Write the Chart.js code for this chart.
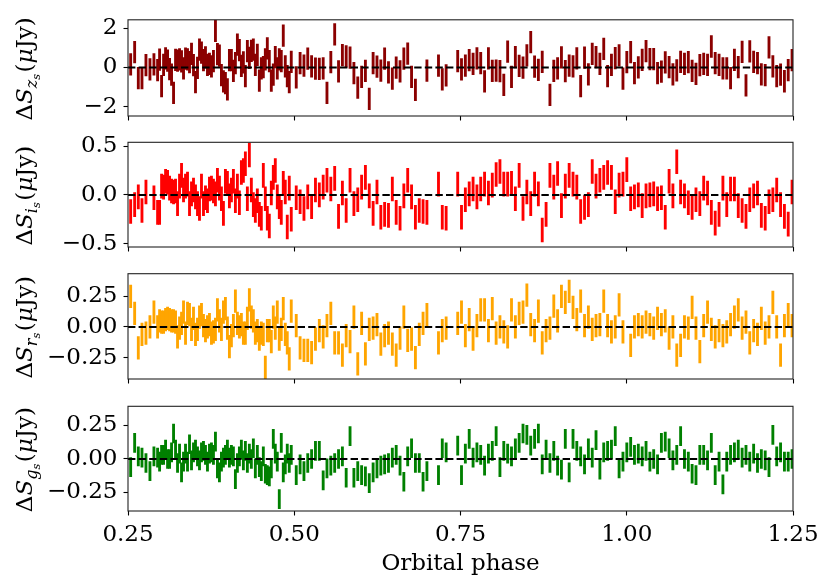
<!DOCTYPE html>
<html lang="en">
<head>
  <meta charset="UTF-8">
  <title>Residuals against orbital phase</title>
  <script src="https://cdn.jsdelivr.net/npm/chart.js"></script>
  <style>
    body { margin: 0; background: #fff; }
    #wrap { position: relative; width: 831px; height: 586px; }
    #wrap canvas { position: absolute; left: 0; top: 0; }
  </style>
</head>
<body>
<div id="wrap">
  <canvas id="pz" width="831" height="586"></canvas>
  <canvas id="pi" width="831" height="586"></canvas>
  <canvas id="pr" width="831" height="586"></canvas>
  <canvas id="pg" width="831" height="586"></canvas>
</div>
<script>
// orbital phase of each observation (same for all four bands)
var phase = [
  0.2540,0.2600,0.2655,0.2710,0.2770,0.2830,0.2890,
  0.2945,0.2975,0.3005,0.3035,0.3065,0.3095,0.3125,0.3155,0.3185,0.3215,
  0.3245,0.3275,0.3305,0.3335,0.3365,0.3395,0.3425,0.3455,0.3485,0.3515,
  0.3545,0.3575,0.3605,0.3635,0.3665,0.3695,0.3725,0.3755,0.3785,0.3815,
  0.3845,0.3875,0.3905,0.3935,0.3965,0.3995,0.4025,0.4055,0.4085,0.4115,
  0.4145,0.4175,0.4205,0.4235,0.4265,0.4295,0.4325,0.4355,0.4385,0.4415,
  0.4445,0.4475,0.4505,0.4535,0.4565,0.4595,0.4625,0.4655,0.4685,0.4715,
  0.4745,0.4775,0.4805,0.4835,0.4865,0.4895,0.4925,0.4955,
  0.5030,0.5088,0.5146,0.5203,0.5261,0.5319,0.5377,0.5435,0.5492,0.5550,
  0.5608,0.5666,0.5724,0.5781,0.5839,0.5897,0.5955,0.6013,0.6070,0.6128,
  0.6186,0.6244,0.6302,0.6359,0.6417,0.6475,0.6533,0.6591,0.6648,0.6706,
  0.6764,0.6822,0.6880,0.6937,0.6995,
  0.7169,0.7226,0.7284,
  0.7458,0.7515,0.7573,0.7631,0.7689,0.7747,0.7804,0.7862,0.7920,0.7978,
  0.8036,0.8093,0.8151,0.8209,0.8267,0.8325,0.8382,0.8440,0.8498,0.8556,
  0.8614,0.8671,0.8729,0.8787,0.8845,0.8903,0.8960,0.9018,0.9076,0.9134,
  0.9192,0.9249,0.9307,0.9365,0.9423,0.9481,0.9538,0.9596,0.9654,0.9712,
  0.9770,0.9827,0.9885,0.9943,1.0001,1.0059,1.0116,1.0174,1.0232,1.0290,
  1.0348,1.0405,1.0463,1.0521,1.0579,1.0637,1.0694,1.0752,1.0810,1.0868,
  1.0926,1.0983,1.1041,1.1099,1.1157,1.1215,1.1272,1.1330,1.1388,1.1446,
  1.1504,1.1561,1.1619,1.1677,1.1735,1.1793,1.1850,1.1908,1.1966,1.2024,
  1.2082,1.2139,1.2197,1.2255,1.2313,1.2371,1.2428,1.2486
];

// residuals (uJy), null = no point in that band
var zRes = [
  0.16,0.78,-0.54,-0.54,0.12,-0.09,0.16,
  -0.13,0.40,-0.95,0.14,0.47,0.35,-0.08,-0.36,-1.29,0.39,
  0.35,0.41,0.31,-0.05,0.45,0.41,0.28,0.70,0.12,-0.74,
  -0.02,0.91,0.76,0.37,0.51,0.14,0.19,0.06,0.33,1.87,
  0.68,0.60,-0.39,-0.71,-0.79,-1.12,0.37,0.37,-0.17,0.22,
  1.16,0.88,0.08,0.26,-0.44,0.84,0.49,0.85,0.91,0.14,
  0.64,-0.67,-0.05,0.02,0.41,0.98,0.33,-0.67,-0.36,0.53,
  -0.05,0.41,0.33,1.63,0.06,-0.44,-0.75,0.29,
  -0.50,0.22,0.10,0.45,0.06,-0.06,-0.07,-0.04,-1.29,0.27,
  1.69,-0.20,0.63,0.57,0.50,-0.29,-1.02,-0.48,-0.17,-1.60,
  0.22,0.05,-0.16,0.45,-0.25,-0.57,0.00,-0.20,0.45,0.71,
  -0.48,-1.14,null,null,-0.16,
  0.10,-0.61,-0.40,
  0.33,-0.09,0.10,0.37,0.19,0.47,0.22,-0.71,0.47,-0.17,
  -0.16,-0.19,-0.88,0.81,-0.48,0.53,0.08,0.00,0.62,1.29,
  0.04,-0.12,0.29,null,-1.40,-0.17,-0.05,0.52,-0.19,0.09,
  0.06,0.47,-0.95,0.50,-0.35,0.70,0.53,0.19,0.95,-0.44,
  0.14,0.48,0.62,-0.57,0.27,0.78,-0.29,0.01,0.39,0.84,
  0.43,0.43,-0.29,-0.21,0.26,0.02,-0.35,-0.15,0.29,0.18,
  0.28,-0.17,-0.33,0.12,0.18,0.14,1.07,0.22,0.14,-0.05,
  -0.05,-0.54,0.39,0.02,0.80,-0.91,0.82,0.29,0.22,-0.35,
  -0.39,1.02,0.06,-0.44,-0.36,-0.70,-0.13,0.37
];
var iRes = [
  -0.17,-0.10,-0.02,-0.16,0.03,null,-0.03,
  -0.18,-0.18,0.09,0.08,0.14,0.13,0.07,0.04,0.03,0.04,
  -0.09,0.09,0.20,0.05,0.09,0.11,-0.09,0.01,0.05,-0.02,
  -0.09,-0.14,0.09,-0.09,-0.03,-0.06,0.06,0.07,0.04,0.01,
  0.15,0.07,-0.04,-0.19,0.14,0.12,-0.01,0.05,0.14,-0.06,
  0.09,-0.08,0.23,0.25,0.32,-0.04,0.41,0.05,-0.10,-0.16,
  -0.06,-0.20,-0.24,0.20,-0.04,-0.24,-0.32,0.02,0.18,0.25,
  -0.02,-0.12,-0.18,0.12,0.03,-0.33,0.07,-0.25,
  -0.03,-0.07,-0.14,-0.02,-0.12,0.05,0.00,0.08,0.15,0.06,
  0.17,-0.22,0.02,-0.16,0.15,-0.09,-0.05,0.08,0.18,-0.01,
  -0.19,0.03,-0.23,-0.20,-0.21,0.06,-0.18,-0.24,-0.01,0.15,
  -0.02,-0.23,-0.16,-0.17,-0.18,
  0.11,-0.23,-0.24,
  0.11,-0.23,-0.05,0.01,0.06,-0.02,0.06,0.11,0.02,0.10,
  0.21,0.24,0.11,0.11,0.12,-0.04,0.20,-0.14,0.03,-0.09,
  0.11,0.01,-0.36,-0.20,0.20,0.08,0.22,-0.11,0.09,0.20,
  0.11,0.08,-0.17,-0.13,-0.10,0.24,0.09,0.15,0.18,0.23,
  0.18,-0.07,0.10,0.11,0.26,-0.04,-0.02,0.00,-0.11,-0.01,
  0.00,0.01,-0.04,-0.03,-0.23,0.14,-0.01,0.34,0.03,-0.01,
  -0.08,-0.13,-0.05,-0.09,0.07,0.02,-0.18,-0.29,-0.20,0.07,
  -0.10,0.06,0.06,-0.11,-0.16,-0.22,-0.05,-0.01,0.02,-0.21,
  -0.24,-0.07,-0.05,0.05,-0.10,-0.22,-0.30,0.03
];
var rRes = [
  0.25,0.11,-0.17,-0.06,-0.05,0.00,0.12,
  0.00,0.05,0.04,0.04,0.06,0.07,0.06,0.05,0.05,0.04,
  -0.08,-0.01,0.03,0.12,-0.05,0.11,0.10,-0.02,0.07,-0.06,
  -0.02,0.08,0.10,0.01,-0.03,0.00,0.02,-0.05,-0.04,-0.02,
  0.14,0.05,-0.02,0.12,0.15,-0.01,-0.16,-0.07,0.01,0.21,
  0.03,0.00,0.02,-0.05,-0.05,0.07,0.22,0.08,0.05,-0.05,
  -0.03,-0.10,-0.05,-0.06,-0.33,-0.03,-0.03,-0.12,0.08,-0.01,
  0.12,-0.10,-0.02,0.15,-0.06,-0.13,-0.26,0.13,
  0.01,-0.17,-0.19,-0.19,-0.21,-0.10,-0.03,-0.08,0.01,0.11,
  -0.13,-0.13,-0.23,-0.07,-0.12,0.08,-0.30,0.03,-0.22,-0.02,
  -0.01,0.02,-0.14,-0.07,-0.05,-0.14,-0.23,-0.09,0.08,-0.11,
  -0.10,-0.25,-0.06,0.03,0.10,
  -0.13,-0.03,-0.01,
  0.03,0.12,-0.07,0.06,-0.10,0.01,0.14,0.14,-0.03,0.15,
  -0.05,0.00,-0.04,-0.08,0.14,0.00,0.11,0.12,0.26,0.02,
  -0.03,0.13,-0.13,-0.03,-0.01,0.17,0.05,0.25,0.20,0.29,
  0.16,0.06,0.21,0.01,0.08,-0.02,0.01,0.02,0.21,0.01,
  -0.04,0.00,0.18,-0.04,null,-0.15,0.00,0.02,0.00,0.04,
  0.02,-0.01,0.07,0.02,0.05,-0.09,0.00,-0.23,-0.15,0.00,
  -0.01,0.16,-0.01,-0.20,0.01,0.12,-0.02,-0.08,-0.03,-0.07,
  -0.04,0.02,0.08,0.14,-0.01,0.04,-0.13,-0.03,-0.06,0.07,
  -0.05,0.00,0.20,0.00,-0.23,0.01,0.10,0.01
];
var gRes = [
  -0.06,0.12,0.02,0.01,-0.03,-0.09,0.02,
  0.01,-0.02,0.03,0.03,0.07,0.00,0.00,0.05,0.19,0.07,
  -0.03,0.04,-0.10,-0.02,0.04,-0.02,0.11,-0.01,0.05,0.07,
  0.02,-0.01,0.05,0.06,0.03,-0.02,0.04,0.05,0.03,0.13,
  -0.07,-0.10,-0.02,0.01,0.03,0.07,0.01,0.03,0.02,-0.15,
  -0.03,0.02,0.07,-0.01,0.06,-0.03,0.04,0.00,0.08,-0.07,
  0.03,-0.06,-0.09,0.02,-0.11,-0.12,-0.13,-0.07,0.15,0.04,
  -0.02,-0.30,0.12,-0.10,-0.04,0.04,-0.03,0.03,
  -0.12,-0.04,-0.09,-0.03,0.00,0.06,0.06,-0.16,-0.07,-0.05,
  -0.03,0.00,0.02,-0.14,0.17,-0.14,-0.09,-0.12,-0.13,-0.18,
  -0.10,-0.07,-0.05,-0.04,-0.03,0.01,0.03,-0.05,-0.17,0.02,
  0.08,-0.03,-0.03,-0.17,-0.09,
  -0.12,0.08,0.05,
  0.10,-0.12,0.04,0.15,0.01,0.05,0.03,-0.05,0.04,0.06,
  0.17,-0.06,0.06,0.04,0.02,0.08,0.12,0.19,0.18,0.10,
  0.15,0.19,-0.04,0.07,-0.03,0.06,-0.05,-0.08,0.15,-0.10,
  0.15,0.06,0.02,-0.04,0.08,0.01,0.14,-0.08,0.05,0.06,
  0.07,0.17,-0.07,-0.02,0.05,0.09,0.03,0.04,0.02,0.06,
  -0.02,0.00,-0.04,0.12,0.13,0.08,-0.01,0.03,0.17,0.00,
  -0.02,-0.11,-0.12,0.03,0.03,-0.01,0.12,-0.12,-0.02,-0.19,
  -0.02,0.03,0.05,0.07,0.01,0.03,-0.02,0.04,-0.03,0.00,
  -0.01,-0.06,0.18,0.02,0.05,-0.02,-0.02,0.00
];

// typical 1-sigma error per band (uJy)
var bandErr = [0.55, 0.123, 0.092, 0.071];
var bands = ['z', 'i', 'r', 'g'];

var xTicks = [0.25, 0.50, 0.75, 1.00, 1.25];
var xTickLabels = ['0.25', '0.50', '0.75', '1.00', '1.25'];
var zTicks = [-2, 0, 2],          zTickLabels = ['\u22122', '0', '2'];
var iTicks = [-0.5, 0, 0.5],      iTickLabels = ['\u22120.5', '0.0', '0.5'];
var rTicks = [-0.25, 0, 0.25],    rTickLabels = ['\u22120.25', '0.00', '0.25'];
var gTicks = [-0.25, 0, 0.25],    gTickLabels = ['\u22120.25', '0.00', '0.25'];

var SERIF = '"DejaVu Serif", serif';

var panels = [
  { id: 'pz', res: zRes, err: bandErr[0], band: bands[0], color: '#8b0000', ymin: -2.47, ymax: 2.43, ticks: zTicks, labels: zTickLabels, top: 10.7, bottom: 116 },
  { id: 'pi', res: iRes, err: bandErr[1], band: bands[1], color: '#ff0000', ymin: -0.535, ymax: 0.54, ticks: iTicks, labels: iTickLabels, top: 142.3, bottom: 247 },
  { id: 'pr', res: rRes, err: bandErr[2], band: bands[2], color: '#ffa500', ymin: -0.424, ymax: 0.434, ticks: rTicks, labels: rTickLabels, top: 273.7, bottom: 379 },
  { id: 'pg', res: gRes, err: bandErr[3], band: bands[3], color: '#008000', ymin: -0.388, ymax: 0.393, ticks: gTicks, labels: gTickLabels, top: 406.3, bottom: 511 }
];

// draws ΔS_{b_s}(μJy) rotated, with mathtext-like sub/subsubscripts
function drawYLabel(ctx, band, cx, cy) {
  var fs = 23;
  var parts = [
    { t: '\u0394', it: false, s: 1,    dy: 0 },
    { t: 'S',      it: true,  s: 1,    dy: 0 },
    { t: band,     it: true,  s: 0.7,  dy: 5 },
    { t: 's',      it: true,  s: 0.49, dy: 8.5 },
    { t: '(',      it: false, s: 1,    dy: 0, pad: 1.5 },
    { t: '\u03bc', it: true,  s: 1,    dy: 0 },
    { t: 'Jy',     it: false, s: 1,    dy: 0 },
    { t: ')',      it: false, s: 1,    dy: 0 }
  ];
  var total = 0;
  parts.forEach(function (p) {
    ctx.font = (p.it ? 'italic ' : '') + (fs * p.s) + 'px ' + SERIF;
    p.w = ctx.measureText(p.t).width;
    total += p.w + (p.pad || 0);
  });
  ctx.save();
  ctx.translate(cx, cy);
  ctx.rotate(-Math.PI / 2);
  ctx.fillStyle = '#000';
  ctx.textBaseline = 'alphabetic';
  ctx.textAlign = 'left';
  var x = -total / 2;
  parts.forEach(function (p) {
    x += (p.pad || 0);
    ctx.font = (p.it ? 'italic ' : '') + (fs * p.s) + 'px ' + SERIF;
    ctx.fillText(p.t, x, p.dy);
    x += p.w;
  });
  ctx.restore();
}

var framePlugin = {
  id: 'frame',
  afterDatasetsDraw: function (chart) {
    var a = chart.chartArea;
    var ctx = chart.ctx;
    var y0 = chart.scales.y.getPixelForValue(0);
    ctx.save();
    // zero line
    ctx.strokeStyle = '#000';
    ctx.lineWidth = 2;
    ctx.setLineDash([7.4, 3.2]);
    ctx.beginPath();
    ctx.moveTo(a.left, y0);
    ctx.lineTo(a.right, y0);
    ctx.stroke();
    // box
    ctx.setLineDash([]);
    ctx.lineWidth = 1.1;
    ctx.strokeStyle = '#222';
    ctx.strokeRect(a.left, a.top, a.right - a.left, a.bottom - a.top);
    ctx.restore();
    drawYLabel(ctx, chart.options.plugins.frame.band, 31.5, (a.top + a.bottom) / 2 + 1);
  }
};

panels.forEach(function (p, n) {
  var last = n === panels.length - 1;
  var xAxisH = last ? 70 : 6;
  var bars = [];
  for (var i = 0; i < phase.length; i++) {
    if (p.res[i] === null) continue;
    bars.push({ x: phase[i], y: [p.res[i] - p.err, p.res[i] + p.err] });
  }

  new Chart(document.getElementById(p.id), {
    type: 'bar',
    data: {
      datasets: [{
        data: bars,
        backgroundColor: p.color,
        borderWidth: 0,
        barThickness: 2.2,
        grouped: false
      }]
    },
    options: {
      responsive: false,
      animation: false,
      events: [],
      layout: { padding: { left: 0, right: 38, top: p.top, bottom: 586 - p.bottom - xAxisH } },
      plugins: {
        legend: { display: false },
        tooltip: { enabled: false },
        frame: { band: p.band }
      },
      scales: {
        x: {
          type: 'linear',
          min: 0.25,
          max: 1.25,
          offset: false,
          afterBuildTicks: function (s) { s.ticks = xTicks.map(function (v) { return { value: v }; }); },
          afterFit: function (s) { s.height = xAxisH; },
          border: { display: false },
          grid: { offset: false, drawOnChartArea: false, drawTicks: true, tickLength: 4.5, tickWidth: 1.1, tickColor: '#000' },
          ticks: {
            autoSkip: false,
            maxRotation: 0,
            padding: 6,
            color: '#000',
            font: { family: SERIF, size: 23 },
            callback: function (v, i) { return last ? xTickLabels[i] : ''; }
          },
          title: {
            display: last,
            text: 'Orbital phase',
            color: '#000',
            font: { family: SERIF, size: 23 },
            padding: { top: 0, bottom: 3 }
          }
        },
        y: {
          min: p.ymin,
          max: p.ymax,
          afterBuildTicks: function (s) { s.ticks = p.ticks.map(function (v) { return { value: v }; }); },
          afterFit: function (s) { s.width = 128; },
          border: { display: false },
          grid: { drawOnChartArea: false, drawTicks: true, tickLength: 4.5, tickWidth: 1.1, tickColor: '#000' },
          ticks: {
            padding: 6,
            color: '#000',
            font: { family: SERIF, size: 23 },
            callback: function (v, i) { return p.labels[i]; }
          }
        }
      }
    },
    plugins: [framePlugin]
  });
});
</script>
</body>
</html>
